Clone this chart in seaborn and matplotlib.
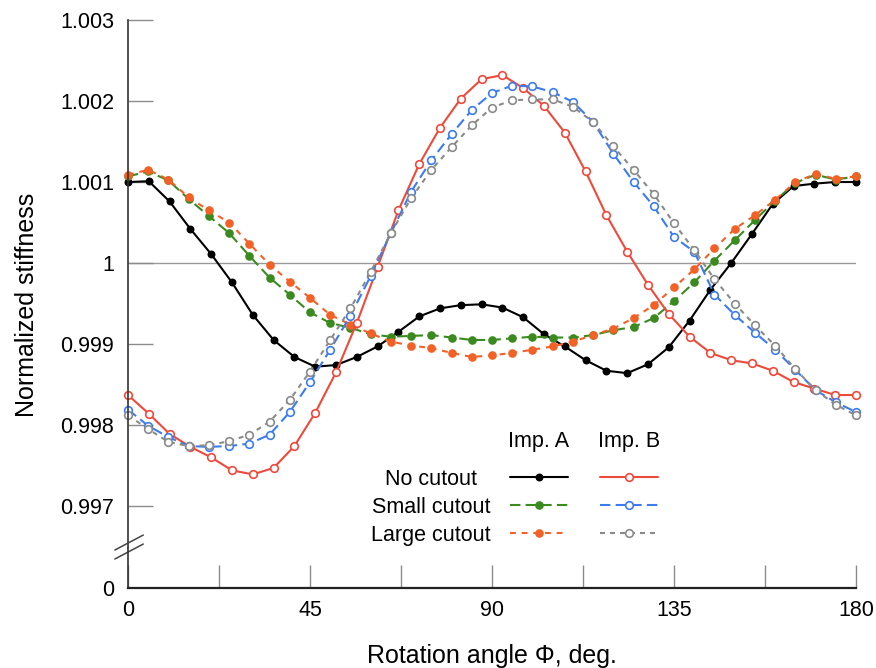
import numpy as np
import matplotlib.pyplot as plt
import seaborn as sns

sns.set_theme(style="white")
plt.rcParams["font.family"] = ["Liberation Sans", "DejaVu Sans"]
plt.rcParams["text.color"] = "black"
plt.rcParams["axes.labelcolor"] = "black"

# rotation angles: the no-cutout runs have 36 steps, the cutout runs 37 (every 5 deg)
phi_36 = np.linspace(0, 180, 36)
phi_37 = np.arange(0, 185, 5)

# Imp. A
a_none = [1.00100, 1.00101, 1.00076, 1.00042, 1.00011, 0.99976, 0.99936, 0.99905, 0.99884,
          0.99872, 0.99874, 0.99884, 0.99897, 0.99915, 0.99934, 0.99944, 0.99948, 0.99949,
          0.99945, 0.99933, 0.99912, 0.99897, 0.99880, 0.99867, 0.99864, 0.99875, 0.99896,
          0.99929, 0.99967, 1.00000, 1.00036, 1.00073, 1.00095, 1.00098, 1.00100, 1.00100]
a_small = [1.00107, 1.00113, 1.00102, 1.00079, 1.00058, 1.00037, 1.00009, 0.99982, 0.99961,
           0.99939, 0.99926, 0.99920, 0.99912, 0.99909, 0.99910, 0.99911, 0.99908, 0.99905,
           0.99905, 0.99907, 0.99909, 0.99908, 0.99908, 0.99911, 0.99917, 0.99921, 0.99932,
           0.99953, 0.99976, 1.00003, 1.00028, 1.00053, 1.00077, 1.00099, 1.00109, 1.00103,
           1.00107]
a_large = [1.00109, 1.00115, 1.00103, 1.00081, 1.00065, 1.00050, 1.00024, 0.99998, 0.99977,
           0.99957, 0.99936, 0.99924, 0.99913, 0.99903, 0.99898, 0.99895, 0.99889, 0.99884,
           0.99886, 0.99889, 0.99893, 0.99897, 0.99903, 0.99911, 0.99919, 0.99932, 0.99948,
           0.99970, 0.99992, 1.00018, 1.00042, 1.00059, 1.00078, 1.00100, 1.00110, 1.00104,
           1.00107]

# Imp. B
b_none = [0.99837, 0.99814, 0.99789, 0.99773, 0.99760, 0.99744, 0.99739, 0.99747, 0.99774,
          0.99815, 0.99865, 0.99926, 0.99995, 1.00065, 1.00122, 1.00167, 1.00203, 1.00227,
          1.00232, 1.00216, 1.00194, 1.00161, 1.00113, 1.00059, 1.00014, 0.99973, 0.99937,
          0.99909, 0.99889, 0.99880, 0.99876, 0.99867, 0.99853, 0.99845, 0.99837, 0.99837]
b_small = [0.99819, 0.99799, 0.99785, 0.99774, 0.99773, 0.99774, 0.99777, 0.99788, 0.99816,
           0.99853, 0.99893, 0.99935, 0.99984, 1.00037, 1.00088, 1.00127, 1.00159, 1.00189,
           1.00210, 1.00219, 1.00218, 1.00211, 1.00199, 1.00174, 1.00135, 1.00100, 1.00070,
           1.00032, 1.00014, 0.99961, 0.99936, 0.99914, 0.99893, 0.99868, 0.99843, 0.99828,
           0.99816]
b_large = [0.99812, 0.99795, 0.99779, 0.99774, 0.99775, 0.99780, 0.99788, 0.99804, 0.99831,
           0.99866, 0.99905, 0.99944, 0.99989, 1.00037, 1.00080, 1.00115, 1.00143, 1.00170,
           1.00192, 1.00201, 1.00202, 1.00202, 1.00193, 1.00174, 1.00144, 1.00115, 1.00085,
           1.00049, 1.00016, 0.99980, 0.99950, 0.99923, 0.99898, 0.99869, 0.99843, 0.99825,
           0.99812]

row_labels = ["No cutout", "Small cutout", "Large cutout"]
col_labels = ["Imp. A", "Imp. B"]
y_ticks = [0.997, 0.998, 0.999, 1.0, 1.001, 1.002, 1.003]
y_tick_labels = ["0.997", "0.998", "0.999", "1", "1.001", "1.002", "1.003"]
x_ticks = [0, 22.5, 45, 67.5, 90, 112.5, 135, 157.5, 180]
x_tick_labels = ["0", "", "45", "", "90", "", "135", "", "180"]

# styles: color, linestyle, marker face, marker size
styles = {
    ("A", 0): ("black", "-", "black", 4.5),
    ("A", 1): ("#3b8a1f", (0, (5, 2.5)), "#3b8a1f", 5),
    ("A", 2): ("#f26126", (0, (2.8, 2.8)), "#f26126", 5),
    ("B", 0): ("#ee4a3c", "-", "white", 5.5),
    ("B", 1): ("#3d7cf0", (0, (5, 2.5)), "white", 5.5),
    ("B", 2): ("#8a8a8a", (0, (2.4, 2.4)), "white", 5.5),
}
series = [
    ("A", 0, phi_36, a_none), ("A", 1, phi_37, a_small), ("A", 2, phi_37, a_large),
    ("B", 0, phi_36, b_none), ("B", 1, phi_37, b_small), ("B", 2, phi_37, b_large),
]

fig = plt.figure(figsize=(8.76, 6.68), dpi=100)
ax = fig.add_axes([0.1461, 0.1796, 0.8311, 0.7904])
ax_bot = fig.add_axes([0.1461, 0.1198, 0.8311, 0.0598])

for imp, row, x, y in series:
    c, ls, mfc, ms = styles[(imp, row)]
    sns.lineplot(x=x, y=y, ax=ax, color=c, linestyle=ls, linewidth=1.5,
                 marker="o", markersize=ms, markerfacecolor=mfc,
                 markeredgecolor=c, markeredgewidth=1.2, legend=False)
    ax.lines[-1].set_clip_on(False)

ax.axhline(1.0, color="#9a9a9a", lw=1, zorder=0)

# top part of the broken axis
ax.set_xlim(0, 180)
ax.set_ylim(0.996481, 1.003)
ax.set_yticks(y_ticks)
ax.set_yticklabels(y_tick_labels)
ax.tick_params(axis="y", direction="in", length=18, width=1, color="#8c8c8c",
               labelcolor="black", pad=10, labelsize=15.5, left=True)
ax.tick_params(axis="x", bottom=False, labelbottom=False)
for s in ["top", "right", "bottom"]:
    ax.spines[s].set_visible(False)
ax.spines["left"].set_color("#333333")
ax.spines["left"].set_linewidth(1.2)
ax.set_xlabel("")
ax.set_ylabel("Normalized stiffness", fontsize=18)
ax.yaxis.set_label_coords(-0.122, 0.46)

# bottom part (zero)
ax_bot.set_xlim(0, 180)
ax_bot.set_ylim(0, 1)
ax_bot.set_yticks([0])
ax_bot.set_yticklabels(["0"])
ax_bot.set_xticks(x_ticks)
ax_bot.set_xticklabels(x_tick_labels)
ax_bot.tick_params(axis="x", direction="in", length=16.5, width=1, color="#8c8c8c",
                   labelcolor="black", pad=9, labelsize=15.5, bottom=True)
ax_bot.tick_params(axis="y", length=0, pad=10, labelsize=15.5, labelcolor="black",
                   left=True)
for s in ["top", "right"]:
    ax_bot.spines[s].set_visible(False)
ax_bot.spines["left"].set_color("#333333")
ax_bot.spines["left"].set_linewidth(1.2)
ax_bot.spines["bottom"].set_color("#222222")
ax_bot.spines["bottom"].set_linewidth(1.6)
ax_bot.set_xlabel("Rotation angle \u03a6, deg.", fontsize=18)
ax_bot.xaxis.set_label_coords(0.5, -1.4)

# axis break marks
for y0 in (0.95, 0.725):
    ax_bot.plot([-0.018, 0.021], [y0, y0 + 0.375], transform=ax_bot.transAxes,
                color="#444444", lw=1.1, clip_on=False)

# table-style legend (axes fractions of the top part)
row_y = [0.1345, 0.0814, 0.0284]
col_x = [(0.5247, 0.6044), (0.6484, 0.7280)]
for r, label in enumerate(row_labels):
    ax.text(0.4162, row_y[r] - 0.0148, label, transform=ax.transAxes, ha="center",
            va="baseline", fontsize=15.5)
for ci, imp in enumerate(["A", "B"]):
    ax.text(sum(col_x[ci]) / 2, 0.1913, col_labels[ci], transform=ax.transAxes,
            ha="center", va="baseline", fontsize=15.5)
    for r in range(3):
        c, ls, mfc, ms = styles[(imp, r)]
        x0, x1 = col_x[ci]
        ax.plot([x0, x1], [row_y[r], row_y[r]], transform=ax.transAxes, color=c,
                linestyle=ls, lw=1.5, clip_on=False)
        ax.plot([(x0 + x1) / 2], [row_y[r]], transform=ax.transAxes, marker="o",
                markersize=ms, markerfacecolor=mfc, markeredgecolor=c,
                markeredgewidth=1.2, clip_on=False)

fig.savefig("out.png", dpi=100)
